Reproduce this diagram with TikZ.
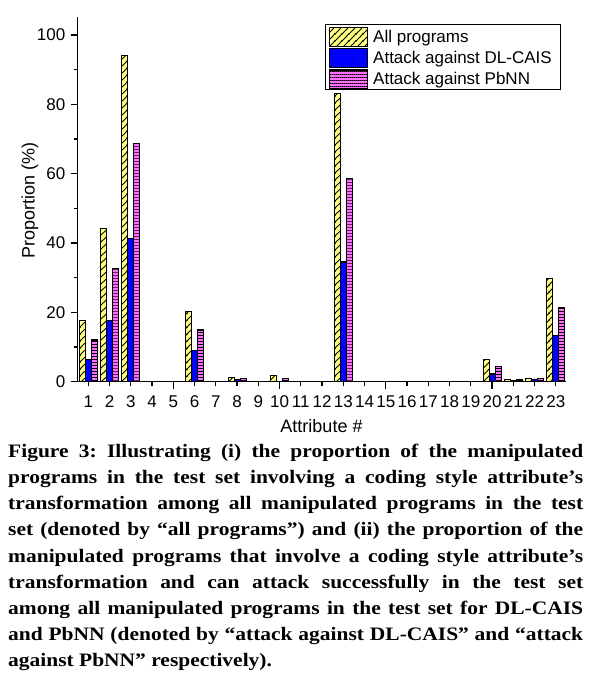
\documentclass[tikz,border=0pt]{standalone}
\usepackage{fontspec}
\newfontfamily\chartfont{Liberation Sans}
\newfontfamily\capfont{Liberation Serif}[FakeStretch=1.13]
\usetikzlibrary{patterns.meta}
\definecolor{ybar}{RGB}{255,255,128}
\definecolor{bbar}{RGB}{0,0,255}
\definecolor{pbar}{RGB}{255,110,255}
\tikzdeclarepattern{
  name=yhatch, type=uncolored,
  bounding box={(0pt,0pt) and (6.7pt,6.7pt)},
  tile size={(6.7pt,6.7pt)},
  code={
    \draw[line width=0.9pt] (-0.5pt,-0.5pt) -- (7.2pt,7.2pt);
    \draw[line width=0.9pt] (-1.5pt,5.2pt) -- (1.5pt,8.2pt);
    \draw[line width=0.9pt] (5.2pt,-1.5pt) -- (8.2pt,1.5pt);
  }
}
\tikzdeclarepattern{
  name=phatch, type=uncolored,
  bounding box={(0pt,0pt) and (2pt,3.3pt)},
  tile size={(2pt,3.3pt)},
  code={\fill (-0.5pt,0pt) rectangle (2.5pt,0.9pt);}
}
\begin{document}
\begin{tikzpicture}[x=1pt,y=-1pt,
  barline/.style={draw=black,line width=1.1pt},
  axisline/.style={draw=black,line width=1.4pt},
  tickline/.style={draw=black,line width=1.2pt},
  chartlabel/.style={font=\chartfont\fontsize{17}{20}\selectfont,inner sep=0pt},
  charttitle/.style={font=\chartfont\fontsize{18}{21}\selectfont,inner sep=0pt},
  yfill/.style={fill=ybar},
  ypat/.style={pattern=yhatch,pattern color=black},
  bfill/.style={fill=bbar},
  pfill/.style={fill=pbar},
  ppat/.style={pattern=phatch,pattern color=black}]
\useasboundingbox (0,0) rectangle (592,684);
\fill[white] (0,0) rectangle (592,684);
% bars
\foreach \i/\a/\b/\c in {1/17.6/6.3/12.0, 2/44.2/17.6/32.6, 3/94.1/41.3/68.8,
  6/20.2/8.9/14.9, 8/1.3/0.66/0.95, 10/1.8/0/1.0, 13/83.0/34.5/58.5,
  20/6.3/2.2/4.3, 21/0.5/0.3/0.5, 22/0.9/0.6/0.9, 23/29.8/13.2/21.5}{
  \pgfmathsetmacro\xc{88.3+21.25*(\i-1)}
  \ifdim\a pt>0pt
    \fill[yfill] ({\xc-9},381.6) rectangle ({\xc-3},{381.6-3.466*\a});
    \fill[ypat] ({\xc-9},381.6) rectangle ({\xc-3},{381.6-3.466*\a});
    \draw[barline] ({\xc-9},381.6) rectangle ({\xc-3},{381.6-3.466*\a});
  \fi
  \ifdim\b pt>0pt
    \fill[bfill] ({\xc-3},381.6) rectangle ({\xc+3},{381.6-3.466*\b});
    \draw[barline] ({\xc-3},381.6) rectangle ({\xc+3},{381.6-3.466*\b});
  \fi
  \ifdim\c pt>0pt
    \fill[pfill] ({\xc+3},381.6) rectangle ({\xc+9},{381.6-3.466*\c});
    \fill[ppat] ({\xc+3},381.6) rectangle ({\xc+9},{381.6-3.466*\c});
    \draw[barline] ({\xc+3},381.6) rectangle ({\xc+9},{381.6-3.466*\c});
  \fi
}
% axes
\coordinate (ytop) at (77.7,17.3);
\coordinate (orig) at (77.7,381.6);
\coordinate (xend) at (566,381.6);
\draw[axisline] (ytop) -- (orig) -- (xend);
% y ticks
\foreach \v in {0,20,...,100}{
  \draw[tickline] (77.7,{381.6-3.466*\v}) -- (70.7,{381.6-3.466*\v});
  \node[chartlabel,anchor=east] (yl\v) at (65.5,{381.6-3.466*\v}) {\v};
}
\foreach \v in {10,30,...,90}{
  \draw[tickline] (77.7,{381.6-3.466*\v}) -- (74.0,{381.6-3.466*\v});
}
% x ticks
\foreach \i in {1,...,23}{
  \pgfmathsetmacro\xc{88.3+21.25*(\i-1)}
  \pgfmathsetmacro\tl{ifthenelse(mod(\i,5)==0,7.2,4.6)}
  \draw[tickline] (\xc,381.6) -- (\xc,{381.6+\tl});
  \node[chartlabel,anchor=base] (xl\i) at (\xc,407) {\i};
}
\node[charttitle,anchor=base] (xtitle) at (321.5,432.7) {Attribute \#};
\node[charttitle,anchor=base,rotate=90] (ytitle) at (34.5,200.5) {Proportion (\%)};
% legend
\draw[line width=1pt] (325,25) rectangle (560.7,90);
\fill[yfill] (329.3,27.5) rectangle (367.3,46.5);
\fill[ypat] (329.3,27.5) rectangle (367.3,46.5);
\draw[barline] (329.3,27.5) rectangle (367.3,46.5);
\fill[bfill] (329.3,48.8) rectangle (367.3,67.6);
\draw[barline] (329.3,48.8) rectangle (367.3,67.6);
\fill[pfill] (329.3,70) rectangle (367.3,88.2);
\fill[ppat] (329.3,70) rectangle (367.3,88.2);
\draw[barline] (329.3,70) rectangle (367.3,88.2);
\node[chartlabel,anchor=base west] (lg1) at (373,43) {All programs};
\node[chartlabel,anchor=base west] (lg2) at (373,64) {Attack against DL-CAIS};
\node[chartlabel,anchor=base west] (lg3) at (373,85) {Attack against PbNN};
% caption
\node[anchor=base west,inner sep=0pt,text width=575pt,align=justify,
  font=\capfont\bfseries\fontsize{19}{26.2}\selectfont] (cap) at (8,457.3)
{\frenchspacing\hyphenpenalty=10000 \exhyphenpenalty=10000 \tolerance=10000
Figure 3: Illustrating (i) the proportion of the manipulated\linebreak
programs in the test set involving a coding style attribute’s\linebreak
transformation among all manipulated programs in the test\linebreak
set (denoted by “all programs”) and (ii) the proportion of the\linebreak
manipulated programs that involve a coding style attribute’s\linebreak
transformation and can attack successfully in the test set\linebreak
among all manipulated programs in the test set for DL-CAIS\linebreak
and PbNN (denoted by “attack against DL-CAIS” and “attack\linebreak
against PbNN” respectively).};
\end{tikzpicture}
\end{document}
